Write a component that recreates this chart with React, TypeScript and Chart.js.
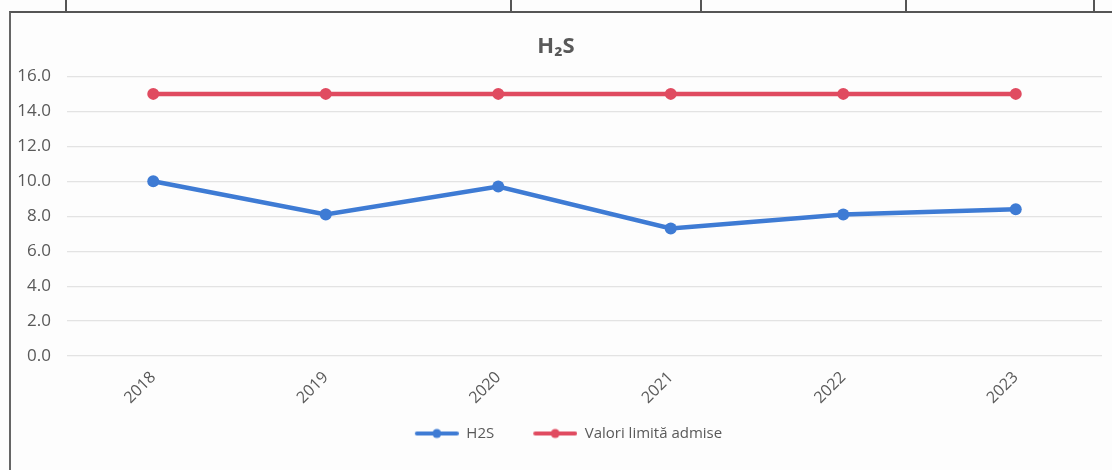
import React, { useEffect, useRef } from "react";
import { Chart, registerables } from "chart.js";

Chart.register(...registerables);

const years = ["2018", "2019", "2020", "2021", "2022", "2023"];
const h2sValues = [10.0, 8.1, 9.7, 7.3, 8.1, 8.4];
const limitValues = [15.0, 15.0, 15.0, 15.0, 15.0, 15.0];
const seriesNames = ["H2S", "Valori limită admise"];
const chartTitle = "H₂S";

const BLUE = "#3E7BD4";
const RED = "#E04B60";
const TEXT = "#595959";
const FONT = "'Open Sans', Lato, sans-serif";
const ICON_W = 44;
const ICON_GAP = 25;

// legend marker: a line with a dot, with an optional blank lead-in on its left
function legendIcon(color: string, lead: number): HTMLCanvasElement {
  const c = document.createElement("canvas");
  c.width = ICON_W + ICON_GAP;
  c.height = 12;
  const g = c.getContext("2d")!;
  g.strokeStyle = color;
  g.lineWidth = 4;
  g.lineCap = "round";
  g.beginPath();
  g.moveTo(lead + 2, 6);
  g.lineTo(lead + ICON_W - 2, 6);
  g.stroke();
  g.fillStyle = color;
  g.beginPath();
  g.arc(lead + ICON_W / 2, 6, 4.5, 0, Math.PI * 2);
  g.fill();
  return c;
}

export default function App() {
  const ref = useRef<HTMLCanvasElement | null>(null);

  useEffect(() => {
    if (!ref.current) return;
    const icons = [legendIcon(BLUE, ICON_GAP), legendIcon(RED, ICON_GAP)];
    const chart = new Chart(ref.current, {
      type: "line",
      data: {
        labels: years,
        datasets: [
          {
            label: seriesNames[0],
            data: h2sValues,
            borderColor: BLUE,
            backgroundColor: BLUE,
            borderWidth: 4.5,
            pointRadius: 6,
            pointBackgroundColor: BLUE,
            pointBorderWidth: 0,
            tension: 0,
          },
          {
            label: seriesNames[1],
            data: limitValues,
            borderColor: RED,
            backgroundColor: RED,
            borderWidth: 4.5,
            pointRadius: 6,
            pointBackgroundColor: RED,
            pointBorderWidth: 0,
            tension: 0,
          },
        ],
      },
      options: {
        animation: false,
        responsive: false,
        maintainAspectRatio: false,
        layout: { padding: { left: 10, right: 10, top: 24, bottom: 19 } },
        plugins: {
          title: {
            display: true,
            text: chartTitle,
            color: TEXT,
            font: { family: FONT, size: 22, weight: "bold" },
            padding: { top: 10, bottom: 16 },
          },
          legend: {
            position: "bottom",
            labels: {
              color: TEXT,
              font: { family: FONT, size: 15 },
              usePointStyle: true,
              pointStyleWidth: ICON_W + ICON_GAP,
              boxHeight: 12,
              padding: 14,
              generateLabels: (ch: any) =>
                ch.data.datasets.map((ds: any, i: number) => ({
                  text: ds.label,
                  fillStyle: ds.borderColor,
                  strokeStyle: ds.borderColor,
                  fontColor: TEXT,
                  pointStyle: icons[i],
                  lineWidth: 0,
                  hidden: false,
                  datasetIndex: i,
                })),
            },
          },
          tooltip: { enabled: false },
        },
        scales: {
          x: {
            offset: true,
            grid: { display: false, drawTicks: false },
            border: { display: false },
            ticks: {
              color: TEXT,
              font: { family: FONT, size: 16 },
              minRotation: 45,
              maxRotation: 45,
              padding: 12,
            },
            afterFit: (s: any) => {
              s.height = 56;
            },
          },
          y: {
            min: 0,
            max: 16,
            grid: { color: "#e3e3e3", lineWidth: 1.2, drawTicks: false },
            border: { display: false },
            ticks: {
              stepSize: 2,
              color: TEXT,
              font: { family: FONT, size: 17 },
              padding: 16,
              callback: (v: any) => Number(v).toFixed(1),
            },
            afterFit: (s: any) => {
              s.width = 57;
            },
          },
        },
      },
    });
    return () => chart.destroy();
  }, []);

  const vLine = (x: number) => (
    <div
      key={x}
      style={{ position: "absolute", left: x, top: 0, width: 2, height: 12, background: "#555" }}
    />
  );

  return (
    <div style={{ position: "fixed", left: 0, top: 0, width: 1112, height: 470, background: "#fdfdfd", overflow: "hidden" }}>
      {[65, 510, 700, 905, 1093].map(vLine)}
      <div
        style={{
          position: "absolute",
          left: 9,
          top: 11,
          width: 1110,
          height: 470,
          borderLeft: "2px solid #666",
          borderTop: "2px solid #555",
          boxSizing: "border-box",
        }}
      />
      <canvas ref={ref} width={1112} height={470} style={{ position: "absolute", left: 0, top: 0 }} />
    </div>
  );
}
